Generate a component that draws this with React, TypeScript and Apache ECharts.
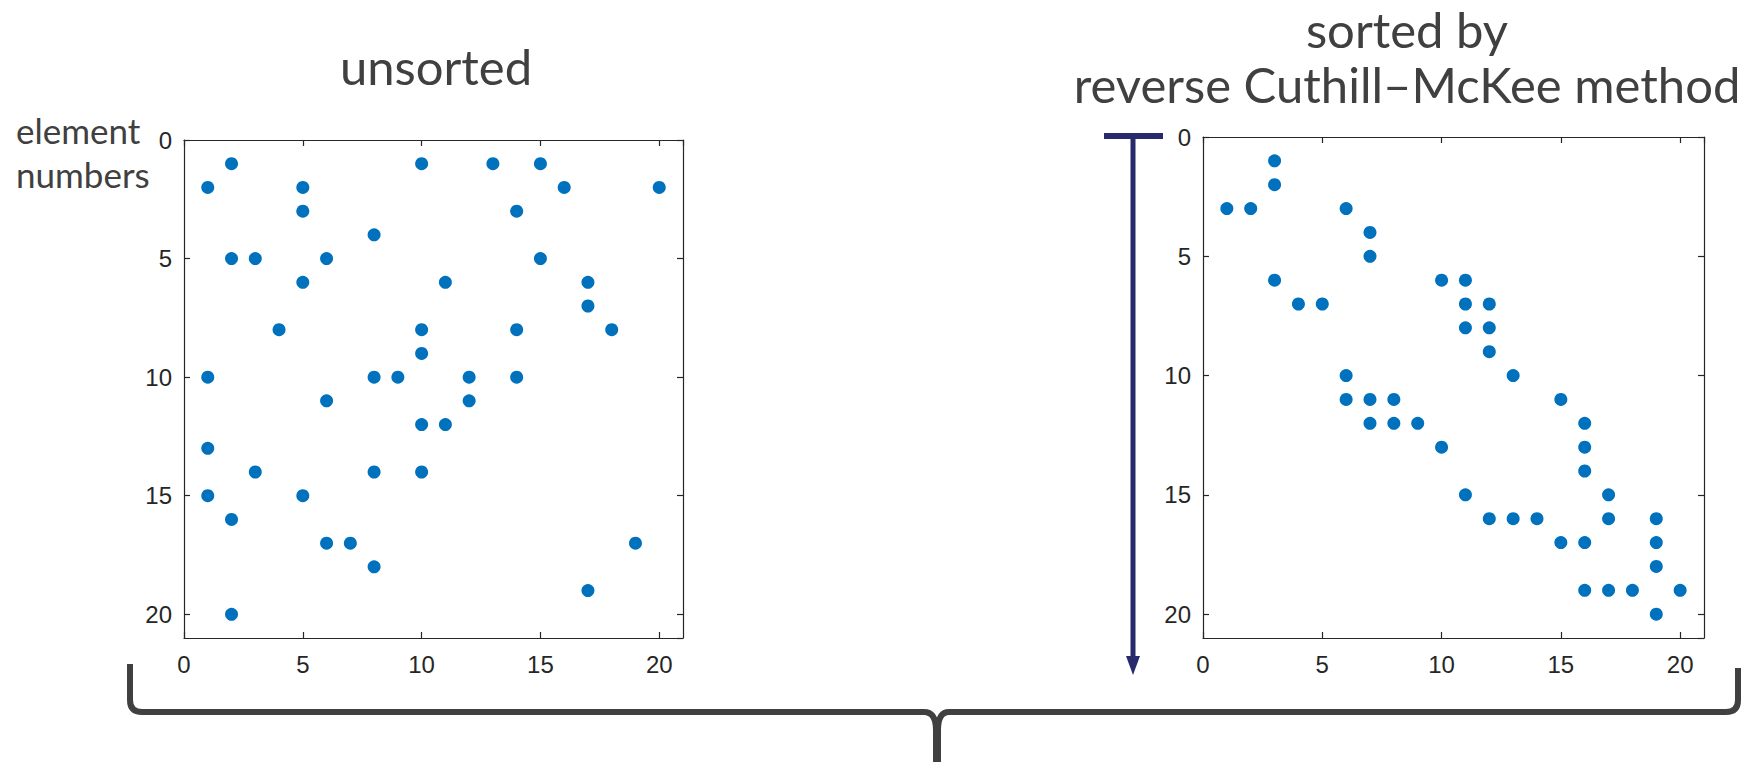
import React, { useEffect, useRef } from "react";
import * as echarts from "echarts";

// Sparse matrix patterns: row r (1-based) -> list of column indices with a nonzero
const unsortedRows: number[][] = [
  [2, 10, 13, 15],
  [1, 5, 16, 20],
  [5, 14],
  [8],
  [2, 3, 6, 15],
  [5, 11, 17],
  [17],
  [4, 10, 14, 18],
  [10],
  [1, 8, 9, 12, 14],
  [6, 12],
  [10, 11],
  [1],
  [3, 8, 10],
  [1, 5],
  [2],
  [6, 7, 19],
  [8],
  [17],
  [2],
];

const sortedRows: number[][] = [
  [3],
  [3],
  [1, 2, 6],
  [7],
  [7],
  [3, 10, 11],
  [4, 5, 11, 12],
  [11, 12],
  [12],
  [6, 13],
  [6, 7, 8, 15],
  [7, 8, 9, 16],
  [10, 16],
  [16],
  [11, 17],
  [12, 13, 14, 17, 19],
  [15, 16, 19],
  [19],
  [16, 17, 18, 20],
  [19],
];

const tickValues = [0, 5, 10, 15, 20];
const axisMax = 21;
const titleLeft = "unsorted";
const titleRight = "sorted by\nreverse Cuthill\u2013McKee method";
const yLabel = "element\nnumbers";

const toPoints = (rows: number[][]) =>
  rows.flatMap((cols, i) => cols.map((c) => [c, i + 1]));

const AXIS_COLOR = "#262626";
const DOT = "#0072BD";
const TEXT = "#404040";
const NAVY = "#272a6c";
const TICK_FONT = "'Liberation Sans', Arial, sans-serif";
const TITLE_FONT = "Lato, 'Open Sans', sans-serif";

const braceD =
  "M130,664 L130,700 Q130,712 142,712 L924,712 Q936,712 936,730 L936,762 " +
  "M949,712 Q938,712 938,730 L938,762 M949,712 L1726,712 Q1738,712 1738,700 L1738,668";

let registered = false;

export default function App() {
  const ref = useRef<HTMLDivElement>(null);
  useEffect(() => {
    if (!ref.current) return;
    if (!registered) {
      echarts.graphic.registerShape("brace", echarts.graphic.extendPath(braceD, {}));
      registered = true;
    }
    const chart = echarts.init(ref.current, undefined, { renderer: "svg" });

    const lineStyle = { color: AXIS_COLOR, width: 1.2 };
    const mkX = (gridIndex: number, position: string) => ({
      type: "value",
      gridIndex,
      position,
      min: 0,
      max: axisMax,
      interval: 5,
      axisLine: { show: true, onZero: false, lineStyle },
      axisTick: { show: true, inside: true, length: 6, lineStyle },
      axisLabel: {
        show: position === "bottom",
        showMaxLabel: false,
        fontFamily: TICK_FONT,
        fontSize: 24,
        color: AXIS_COLOR,
        margin: 14,
        formatter: (v: number) => (tickValues.includes(v) ? String(v) : ""),
      },
      splitLine: { show: false },
    });
    const mkY = (gridIndex: number, position: string) => ({
      type: "value",
      gridIndex,
      position,
      inverse: true,
      min: 0,
      max: axisMax,
      interval: 5,
      axisLine: { show: true, onZero: false, lineStyle },
      axisTick: { show: true, inside: true, length: 6, lineStyle },
      axisLabel: {
        show: position === "left",
        showMaxLabel: false,
        fontFamily: TICK_FONT,
        fontSize: 24,
        color: AXIS_COLOR,
        margin: 12,
        formatter: (v: number) => (tickValues.includes(v) ? String(v) : ""),
      },
      splitLine: { show: false },
    });

    const textEl = (
      text: string,
      x: number,
      y: number,
      size: number,
      lineHeight: number,
      align: string,
      vAlign: string
    ) => ({
      type: "text",
      x,
      y,
      style: {
        text,
        fill: TEXT,
        font: `${size}px ${TITLE_FONT}`,
        lineHeight,
        textAlign: align,
        textVerticalAlign: vAlign,
      },
    });

    chart.setOption({
      animation: false,
      backgroundColor: "#ffffff",
      grid: [
        { left: 184, top: 140, width: 499, height: 498 },
        { left: 1203, top: 137, width: 501, height: 501 },
      ],
      xAxis: [mkX(0, "bottom"), mkX(0, "top"), mkX(1, "bottom"), mkX(1, "top")],
      yAxis: [mkY(0, "left"), mkY(0, "right"), mkY(1, "left"), mkY(1, "right")],
      series: [
        {
          type: "scatter",
          xAxisIndex: 0,
          yAxisIndex: 0,
          symbol: "circle",
          symbolSize: 13,
          itemStyle: { color: DOT, opacity: 1 },
          data: toPoints(unsortedRows),
        },
        {
          type: "scatter",
          xAxisIndex: 2,
          yAxisIndex: 2,
          symbol: "circle",
          symbolSize: 13,
          itemStyle: { color: DOT, opacity: 1 },
          data: toPoints(sortedRows),
        },
      ],
      graphic: [
        textEl(titleLeft, 436, 66, 49, 49, "center", "middle"),
        textEl(titleRight, 1407, 1, 49, 55, "center", "top"),
        textEl(yLabel, 16, 108, 35, 44, "left", "top"),
        {
          type: "rect",
          shape: { x: 1104, y: 133, width: 59, height: 6 },
          style: { fill: NAVY },
        },
        {
          type: "line",
          shape: { x1: 1133, y1: 136, x2: 1133, y2: 660 },
          style: { stroke: NAVY, lineWidth: 5 },
        },
        {
          type: "polygon",
          shape: { points: [[1126, 656], [1140, 656], [1133, 675]] },
          style: { fill: NAVY },
        },
        {
          type: "brace",
          x: 0,
          y: 0,
          style: { stroke: TEXT, lineWidth: 6, fill: "none", lineJoin: "round" },
        },
      ],
    });
    return () => chart.dispose();
  }, []);
  return (
    <div
      ref={ref}
      style={{ position: "fixed", left: 0, top: 0, width: 1747, height: 763, background: "#fff" }}
    />
  );
}
